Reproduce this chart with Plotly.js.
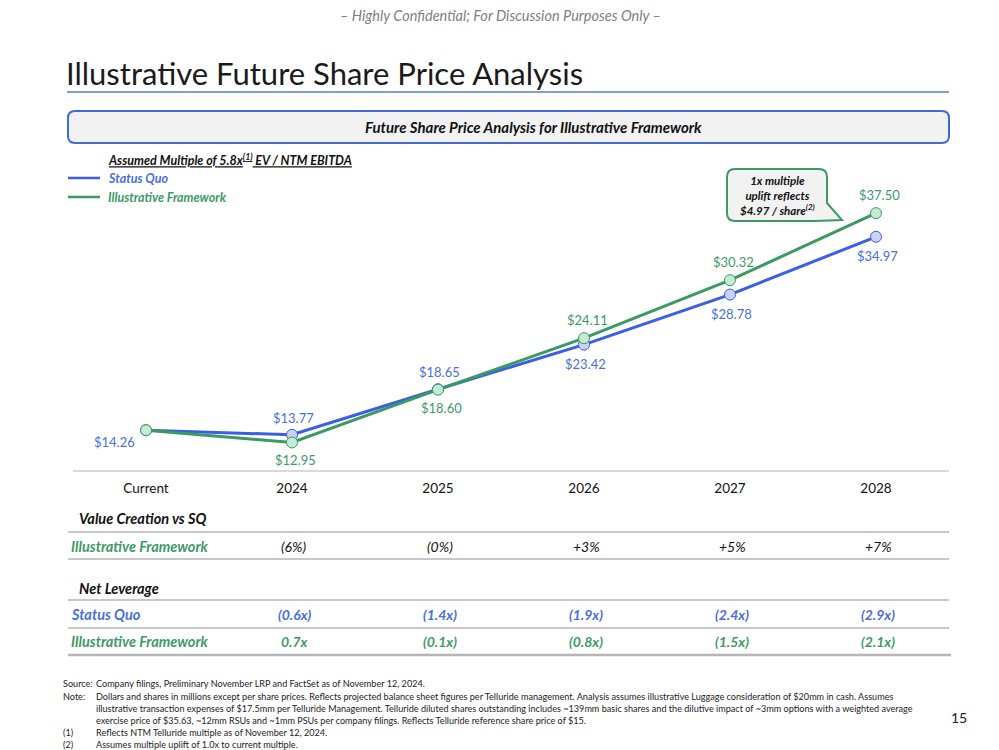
<!DOCTYPE html>
<html>
<head>
<meta charset="utf-8">
<script src="https://cdn.plot.ly/plotly-3.0.1.min.js"></script>
<style>html,body{margin:0;padding:0;background:#fff;}#chart{width:999px;height:750px;}</style>
</head>
<body>
<div id="chart"></div>
<script>
// ---- Data ----
const categories = ['Current', '2024', '2025', '2026', '2027', '2028'];
const statusQuo = [14.26, 13.77, 18.65, 23.42, 28.78, 34.97];
const framework = [14.26, 12.95, 18.60, 24.11, 30.32, 37.50];
const tableYears = ['2024', '2025', '2026', '2027', '2028'];
const valueCreation = ['(6%)', '(0%)', '+3%', '+5%', '+7%'];
const leverageSQ = ['(0.6x)', '(1.4x)', '(1.9x)', '(2.4x)', '(2.9x)'];
const leverageIF = ['0.7x', '(0.1x)', '(0.8x)', '(1.5x)', '(2.1x)'];
// label placement: 1 = above point, -1 = below point, 0 = none
const sqLabelSide = [-1, 1, 1, -1, -1, -1];
const ifLabelSide = [0, -1, -1, 1, 1, 1];

// ---- Styling ----
const FONT = 'Lato, "Open Sans", sans-serif';
const BLUE = '#3a5ee8', BLUE_T = '#4a6ee0', BLUE_F = '#c9d3f7';
const GREEN = '#3a9a62', GREEN_T = '#3d9a66', GREEN_F = '#c6ebd4';
const GRAY_LINE = '#b5b5b5';

// plot area in px: x 73..949, y 150..470
const L = 73, R = 949, T = 150, B = 470;
const X = px => (px - L) / (R - L);
const Y = py => (B - py) / (B - T);
const catIndex = c => categories.indexOf(c);

const annotations = [];
const shapes = [];
function txt(x, y, text, opts = {}) {
  annotations.push(Object.assign({
    xref: 'paper', yref: 'paper', x: X(x), y: Y(y), text: text, showarrow: false,
    xanchor: 'left', yanchor: 'middle',
    font: {family: FONT, size: 12, color: '#111'}
  }, opts));
}
function hline(x0, x1, y, color, width) {
  shapes.push({type: 'line', xref: 'paper', yref: 'paper', x0: X(x0), x1: X(x1), y0: Y(y), y1: Y(y),
    line: {color: color, width: width}});
}
function pathPx(cmds) {
  return cmds.map(c => {
    const l = c[0]; const pts = [];
    for (let i = 1; i < c.length; i += 2) pts.push(X(c[i]).toFixed(5) + ',' + Y(c[i + 1]).toFixed(5));
    return l + ' ' + pts.join(' ');
  }).join(' ') + ' Z';
}
function roundRect(x0, y0, x1, y1, r) {
  return pathPx([
    ['M', x0 + r, y0], ['L', x1 - r, y0], ['Q', x1, y0, x1, y0 + r], ['L', x1, y1 - r],
    ['Q', x1, y1, x1 - r, y1], ['L', x0 + r, y1], ['Q', x0, y1, x0, y1 - r], ['L', x0, y0 + r],
    ['Q', x0, y0, x0 + r, y0]
  ]);
}

// ---- Header texts ----
txt(500, 15, '– Highly Confidential; For Discussion Purposes Only –',
  {xanchor: 'center', font: {family: FONT, size: 14.5, color: '#808080', style: 'italic'}});
txt(64, 73, 'Illustrative Future Share Price Analysis',
  {font: {family: FONT, size: 31, color: '#1a1a1a'}});
hline(67, 949, 92, '#4a80c8', 1.5);

// section header box
shapes.push({type: 'path', xref: 'paper', yref: 'paper', path: roundRect(68, 111, 949, 143, 7),
  fillcolor: '#f2f2f2', line: {color: '#4169d8', width: 2}});
txt(533, 127, '<b><i>Future Share Price Analysis for Illustrative Framework</i></b>',
  {xanchor: 'center', font: {family: FONT, size: 15, color: '#111'}});

// legend
txt(106, 159, '<span style="text-decoration:underline"><b><i>Assumed Multiple of 5.8x<sup>(1)</sup> EV / NTM EBITDA</i></b></span>',
  {font: {family: FONT, size: 12.5, color: '#111'}});
hline(68, 100, 178, BLUE, 2.5);
txt(106, 178, '<b><i>Status Quo</i></b>', {font: {family: FONT, size: 12.5, color: BLUE_T}});
hline(68, 100, 197, GREEN, 2.5);
txt(106, 197, '<b><i>Illustrative Framework</i></b>', {font: {family: FONT, size: 12.5, color: GREEN_T}});

// callout
shapes.push({type: 'path', xref: 'paper', yref: 'paper',
  path: pathPx([
    ['M', 735, 169], ['L', 819, 169], ['Q', 827, 169, 827, 177], ['L', 827, 203],
    ['L', 842, 220], ['L', 815, 221], ['L', 735, 221], ['Q', 727, 221, 727, 213],
    ['L', 727, 177], ['Q', 727, 169, 735, 169]
  ]),
  fillcolor: '#f2f2f2', line: {color: GREEN, width: 2}});
txt(777, 195, '<b><i>1x multiple<br>uplift reflects<br>$4.97 / share<sup>(2)</sup></i></b>',
  {xanchor: 'center', align: 'center', font: {family: FONT, size: 11.5, color: '#111'}});

// ---- Data labels (anchored to data coordinates) ----
categories.forEach((c, i) => {
  const sq = sqLabelSide[i];
  annotations.push({xref: 'x', yref: 'y', x: i, y: statusQuo[i], showarrow: false,
    xanchor: 'center', yanchor: 'middle',
    text: '$' + statusQuo[i].toFixed(2),
    xshift: i === 0 ? -32 : 1, yshift: i === 0 ? -12 : (sq > 0 ? 17 : -19),
    font: {family: FONT, size: 13, color: BLUE_T}});
  if (ifLabelSide[i] !== 0) {
    const s = ifLabelSide[i];
    annotations.push({xref: 'x', yref: 'y', x: i, y: framework[i], showarrow: false,
      xanchor: 'center', yanchor: 'middle',
      text: '$' + framework[i].toFixed(2),
      xshift: 3, yshift: s > 0 ? 18 : -18,
      font: {family: FONT, size: 13, color: GREEN_T}});
  }
});

// ---- Tables ----
const TF = 14.5;
txt(77, 518, '<b><i>Value Creation vs SQ</i></b>', {font: {family: FONT, size: TF, color: '#111'}});
hline(68, 949, 532, GRAY_LINE, 1.5);
txt(69, 546, '<b><i>Illustrative Framework</i></b>', {font: {family: FONT, size: TF, color: GREEN_T}});
hline(68, 949, 559, GRAY_LINE, 1.5);
txt(77, 588, '<b><i>Net Leverage</i></b>', {font: {family: FONT, size: TF, color: '#111'}});
hline(68, 949, 600, GRAY_LINE, 1.5);
txt(69, 614, '<b><i>Status Quo</i></b>', {font: {family: FONT, size: TF, color: BLUE_T}});
hline(68, 949, 628, GRAY_LINE, 1.5);
txt(69, 641, '<b><i>Illustrative Framework</i></b>', {font: {family: FONT, size: TF, color: GREEN_T}});
hline(68, 951, 655, GRAY_LINE, 2.5);

tableYears.forEach((yr, i) => {
  const xi = catIndex(yr);
  const common = {xref: 'x', yref: 'paper', x: xi, xshift: 2, showarrow: false,
    xanchor: 'center', yanchor: 'middle'};
  annotations.push(Object.assign({}, common, {y: Y(546),
    text: '<i>' + valueCreation[i] + '</i>', font: {family: FONT, size: 14, color: '#111'}}));
  annotations.push(Object.assign({}, common, {y: Y(614),
    text: '<b><i>' + leverageSQ[i] + '</i></b>', font: {family: FONT, size: 14, color: BLUE_T}}));
  annotations.push(Object.assign({}, common, {y: Y(641),
    text: '<b><i>' + leverageIF[i] + '</i></b>', font: {family: FONT, size: 14, color: GREEN_T}}));
});

// ---- Footnotes ----
const fn = {family: FONT, size: 9.1, color: '#222'};
const notes = [
  [683, 'Source:', 'Company filings, Preliminary November LRP and FactSet as of November 12, 2024.'],
  [696, 'Note:', 'Dollars and shares in millions except per share prices. Reflects projected balance sheet figures per Telluride management. Analysis assumes illustrative Luggage consideration of $20mm in cash. Assumes'],
  [708, '', 'illustrative transaction expenses of $17.5mm per Telluride Management. Telluride diluted shares outstanding includes ~139mm basic shares and the dilutive impact of ~3mm options with a weighted average'],
  [720, '', 'exercise price of $35.63, ~12mm RSUs and ~1mm PSUs per company filings. Reflects Telluride reference share price of $15.'],
  [732, '(1)', 'Reflects NTM Telluride multiple as of November 12, 2024.'],
  [744, '(2)', 'Assumes multiple uplift of 1.0x to current multiple.']
];
notes.forEach(n => {
  if (n[1]) txt(61, n[0], n[1], {font: fn});
  txt(94, n[0], n[2], {font: fn});
});
txt(969, 717, '15', {xanchor: 'right', font: {family: FONT, size: 14, color: '#222'}});

// ---- Traces ----
const traces = [
  {type: 'scatter', mode: 'lines+markers', x: categories, y: statusQuo, name: 'Status Quo',
    line: {color: BLUE, width: 3}, marker: {size: 11, color: BLUE_F, line: {color: BLUE, width: 1}},
    cliponaxis: false, hoverinfo: 'skip'},
  {type: 'scatter', mode: 'lines+markers', x: categories, y: framework, name: 'Illustrative Framework',
    line: {color: GREEN, width: 3}, marker: {size: 11, color: GREEN_F, line: {color: GREEN, width: 1}},
    cliponaxis: false, hoverinfo: 'skip'}
];

const layout = {
  width: 999, height: 750,
  margin: {l: L, r: 999 - R, t: T, b: 750 - B, pad: 0},
  paper_bgcolor: '#ffffff', plot_bgcolor: '#ffffff',
  showlegend: false,
  font: {family: FONT, size: 12, color: '#111'},
  xaxis: {type: 'category', categoryorder: 'array', categoryarray: categories,
    range: [-0.5, 5.5], showgrid: false, zeroline: false, showline: true,
    linecolor: '#d9d9d9', linewidth: 1.5, ticks: '', fixedrange: true,
    ticklabelstandoff: 5,
    tickfont: {family: FONT, size: 13.5, color: '#111'}},
  yaxis: {range: [10, 44.26], visible: false, showgrid: false, zeroline: false, fixedrange: true},
  annotations: annotations,
  shapes: shapes
};

Plotly.newPlot('chart', traces, layout, {displayModeBar: false, staticPlot: true});
</script>
</body>
</html>
